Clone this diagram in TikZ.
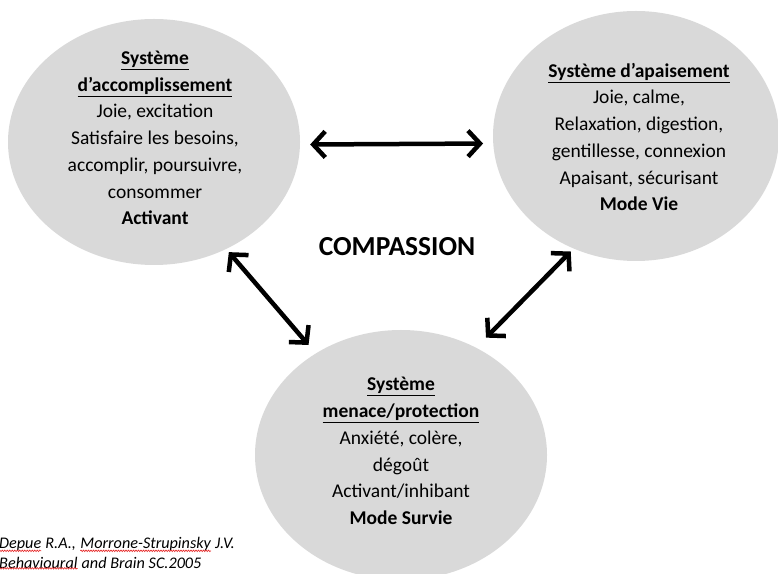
\documentclass[tikz,border=0pt]{standalone}
\usepackage{fontspec}
\setmainfont{Carlito}
\usetikzlibrary{arrows.meta,shapes,positioning,calc,decorations.pathmorphing}
\definecolor{discgray}{RGB}{217,217,217}
\definecolor{spellred}{RGB}{230,40,40}
\newcommand{\systitle}[1]{\underline{\textbf{#1}}}
\tikzset{
	system/.style={
		ellipse,
		fill=discgray,
		minimum width=292pt,
		minimum height=246pt,
		inner sep=0pt,
	},
	systext/.style={
		align=center,
		font=\fontsize{19.5}{26.7}\selectfont,
	},
	link/.style={
		{Straight Barb[length=12pt,width=26pt]}-{Straight Barb[length=12pt,width=26pt]},
		line width=4.5pt,
		line cap=round,
		line join=round,
	},
	citation/.style={
		anchor=base west,
		inner sep=0pt,
		font=\fontsize{16.2}{20}\selectfont\itshape,
	},
	spell/.style={
		spellred,
		line width=0.6pt,
		decorate,
		decoration={snake,amplitude=0.8pt,segment length=2.5pt},
	},
}

\begin{document}
\begin{tikzpicture}[x=1pt,y=1pt]
\useasboundingbox (0,0) rectangle (778,573);

\node[system] (acc) at (154,431) {};
\node[system,minimum width=286pt,minimum height=250pt] (apais) at (636,437) {};
\node[system,minimum height=250pt] (menace) at (401,118) {};

\node[systext] (acctext) at (155,435) {\systitle{Système}\\ \systitle{d’accomplissement}\\ Joie, excitation\\ Satisfaire les besoins,\\ accomplir, poursuivre,\\ consommer\\ \textbf{Activant}};
\node[systext] (apaistext) at (639,436) {\systitle{Système d’apaisement}\\ Joie, calme,\\ Relaxation, digestion,\\ gentillesse, connexion\\ Apaisant, sécurisant\\ \textbf{Mode Vie}};
\node[systext] (menacetext) at (401,122) {\systitle{Système}\\ \systitle{menace/protection}\\ Anxiété, colère,\\ dégoût\\ Activant/inhibant\\ \textbf{Mode Survie}};

\node[font=\fontsize{27.5}{32}\selectfont\bfseries] (comp) at (397,326) {COMPASSION};

\node[citation] (depue) at (-1,25) {Depue};
\node[citation] (cite1) at (depue.base east) {\ R.A.,\kern4pt};
\node[citation] (morrone) at (cite1.base east) {Morrone-Strupinsky};
\node[citation] (cite1b) at (morrone.base east) {\ J.V.};
\node[citation] (behav) at (-1,5) {Behavioural};
\node[citation] (cite2) at (behav.base east) {\ and Brain SC.2005};

\draw[spell] (depue.south west) -- (depue.south east);
\draw[spell] (morrone.south west) -- (morrone.south east);
\draw[spell] (behav.south west) -- (behav.south east);

\draw[link,shorten <=10pt,shorten >=10pt]
  (acc.-1)
  --
  (apais.-177);

\draw[link,shorten <=4pt,shorten >=11pt]
  (acc.-56)
  --
  (menace.130);

\draw[link,shorten <=4pt,shorten >=14pt]
  (apais.-119)
  --
  (menace.55);

\end{tikzpicture}
\end{document}
